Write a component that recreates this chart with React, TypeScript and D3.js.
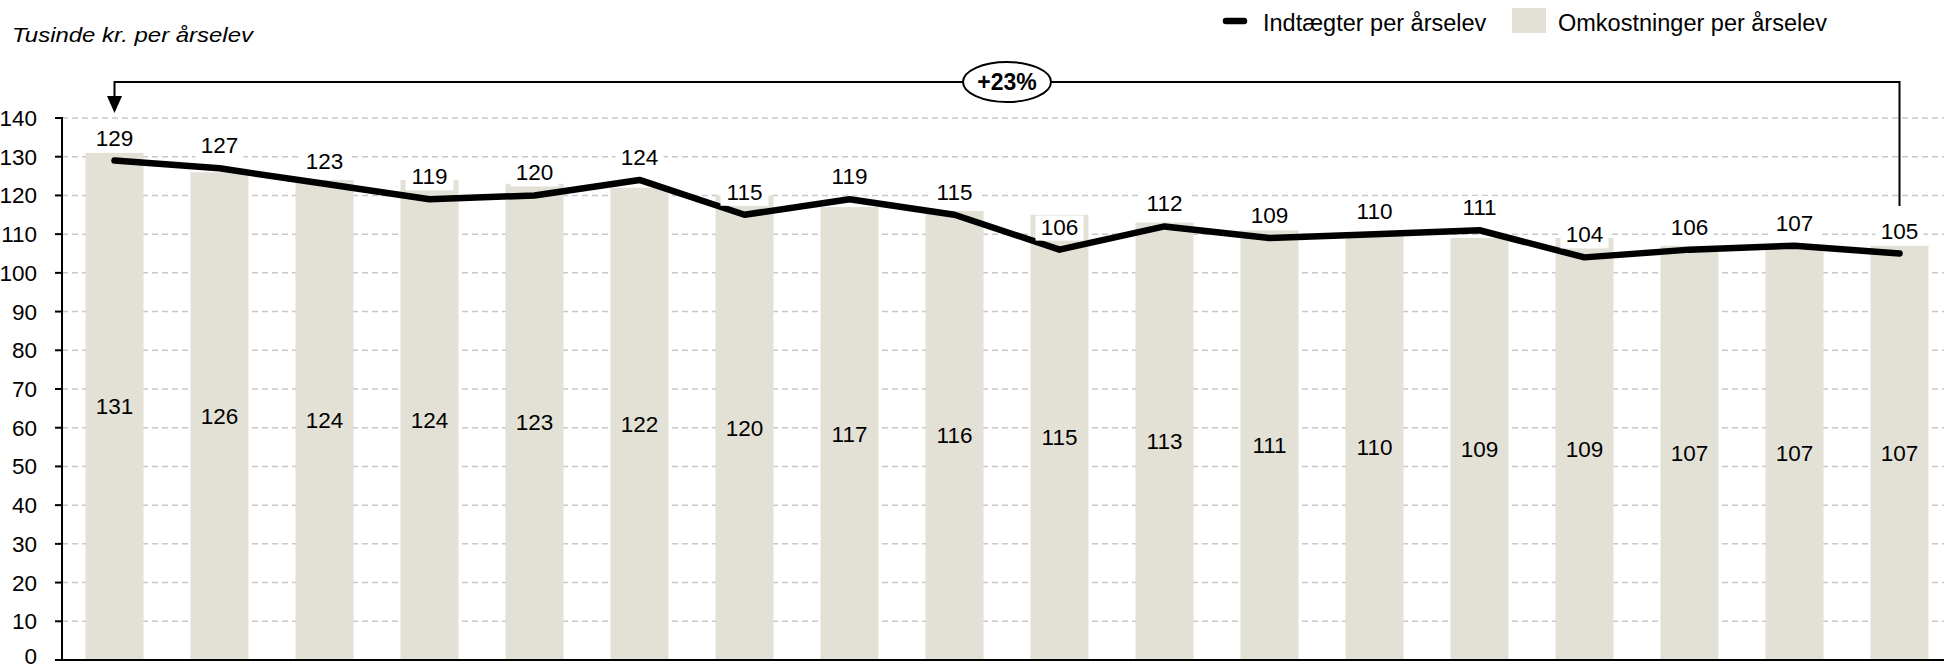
import React, { useEffect } from "react";
import * as d3 from "d3";

// values (thousand DKK per student-year)
const categories = ["1", "2", "3", "4", "5", "6", "7", "8", "9", "10", "11", "12", "13", "14", "15", "16", "17", "18"];
const costs = [131, 126, 124, 124, 123, 122, 120, 117, 116, 115, 113, 111, 110, 109, 109, 107, 107, 107];
const income = [129, 127, 123, 119, 120, 124, 115, 119, 115, 106, 112, 109, 110, 111, 104, 106, 107, 105];
const yTicks = [0, 10, 20, 30, 40, 50, 60, 70, 80, 90, 100, 110, 120, 130, 140];
const changeLabel = "+23%";

const W = 1944, H = 670;
const FONT = "'Liberation Sans', Arial, sans-serif";
const BAR = "#e3e0d6";

export default function App() {
  useEffect(() => {
    document.body.style.margin = "0";
  }, []);

  const x = d3.scaleBand<string>()
    .domain(categories)
    .range([62, 62 + categories.length * 105])
    .paddingInner(0.4476)
    .paddingOuter(0.2238);
  const y = d3.scaleLinear().domain([0, 140]).range([660, 118]);
  const cx = (i: number) => (x(categories[i]) as number) + x.bandwidth() / 2;

  const line = d3.line<number>()
    .x((d, i) => cx(i))
    .y((d) => y(d));

  const first = cx(0), last = cx(categories.length - 1);
  const arrowY = 82;
  const mid = (first + last) / 2;

  return (
    <svg width={W} height={H} style={{ display: "block", background: "#fff" }} fontFamily={FONT}>
      {/* title */}
      <text x={12} y={42} fontSize={21} fontStyle="italic" textLength={241} lengthAdjust="spacingAndGlyphs">Tusinde kr. per årselev</text>

      {/* legend */}
      <line x1={1226} x2={1244} y1={21} y2={21} stroke="#000" strokeWidth={6.5} strokeLinecap="round" />
      <text x={1263} y={31} fontSize={23.5}>Indtægter per årselev</text>
      <rect x={1512} y={8} width={34} height={25} fill={BAR} />
      <text x={1558} y={31} fontSize={23.5}>Omkostninger per årselev</text>

      {/* gridlines */}
      {yTicks.filter((t) => t > 0).map((t) => (
        <line key={t} x1={62} x2={W} y1={y(t)} y2={y(t)} stroke="#c8c8c8" strokeWidth={1.5} strokeDasharray="6,4" />
      ))}

      {/* bars */}
      {costs.map((v, i) => (
        <rect key={i} x={x(categories[i])} y={y(v)} width={x.bandwidth()} height={y(0) - y(v)} fill={BAR} />
      ))}
      {costs.map((v, i) => (
        <text key={i} x={cx(i)} y={y(v / 2) + 8} fontSize={22.5} textAnchor="middle">{v}</text>
      ))}

      {/* axes */}
      <line x1={62} x2={62} y1={117} y2={661} stroke="#000" strokeWidth={2} />
      <line x1={55} x2={W} y1={660} y2={660} stroke="#000" strokeWidth={2} />
      {yTicks.map((t) => (
        <g key={t}>
          <line x1={55} x2={62} y1={y(t)} y2={y(t)} stroke="#000" strokeWidth={2} />
          <text x={37} y={Math.min(y(t) + 8, 664)} fontSize={22.5} textAnchor="end">{t}</text>
        </g>
      ))}

      {/* income line */}
      <path d={line(income) as string} fill="none" stroke="#000" strokeWidth={6.5} strokeLinejoin="round" strokeLinecap="round" />
      {income.map((v, i) => (
        <g key={i}>
          <rect x={cx(i) - 24} y={y(v) - 34} width={48} height={25} fill="#fff" />
          <text x={cx(i)} y={y(v) - 15} fontSize={22.5} textAnchor="middle">{v}</text>
        </g>
      ))}

      {/* change annotation */}
      <path d={`M${first},${arrowY + 15} V${arrowY} H${last} V${206}`} fill="none" stroke="#000" strokeWidth={2} />
      <path d={`M${first - 7.5},${arrowY + 14} L${first + 7.5},${arrowY + 14} L${first},${arrowY + 31} Z`} fill="#000" />
      <ellipse cx={mid} cy={arrowY} rx={44} ry={20} fill="#fff" stroke="#000" strokeWidth={2} />
      <text x={mid} y={arrowY + 8} fontSize={23} fontWeight="bold" textAnchor="middle">{changeLabel}</text>
    </svg>
  );
}
